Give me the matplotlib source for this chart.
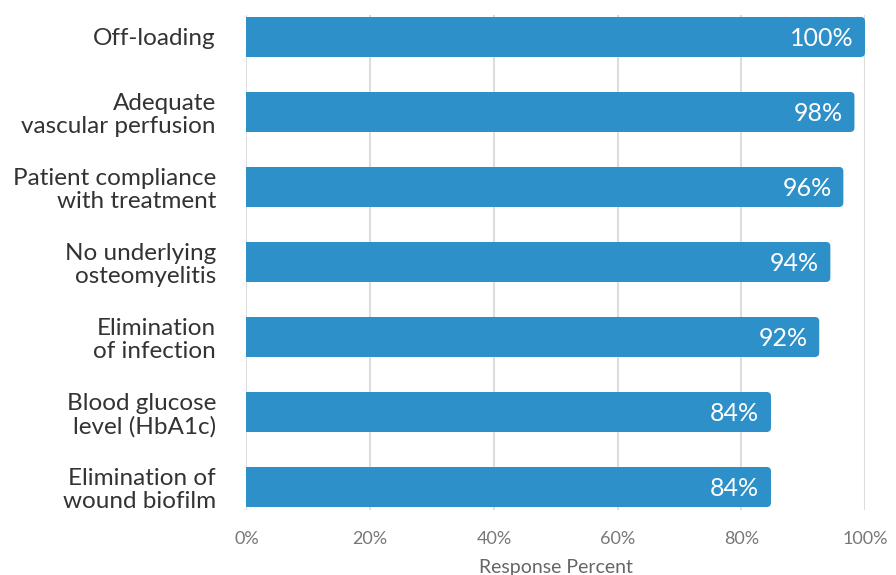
import matplotlib
matplotlib.use("Agg")
import matplotlib.pyplot as plt
from matplotlib.patches import FancyBboxPatch

categories = ["Off-loading", "Adequate\nvascular perfusion", "Patient compliance\nwith treatment",
              "No underlying\nosteomyelitis", "Elimination\nof infection",
              "Blood glucose\nlevel (HbA1c)", "Elimination of\nwound biofilm"]
values = [100, 98.3, 96.5, 94.4, 92.6, 84.8, 84.8]
labels = ["100%", "98%", "96%", "94%", "92%", "84%", "84%"]
xticks = [0, 20, 40, 60, 80, 100]
xticklabels = ["0%", "20%", "40%", "60%", "80%", "100%"]

plt.rcParams['font.family'] = ['Lato', 'DejaVu Sans']
color = "#2E90C8"

fig = plt.figure(figsize=(8.96, 5.75), dpi=100)
ax = fig.add_axes([0.2751, 0.113, 0.9654 - 0.2751, 0.974 - 0.113])

ypos = list(range(len(categories)))
h = 0.533
r = 0.7  # rounding in x units
bars = ax.barh(ypos, [v - r for v in values], height=h, color=color, zorder=2, linewidth=0)
for b, v in zip(bars, values):
    y0 = b.get_y()
    p = FancyBboxPatch((v - 3 * r, y0), 3 * r, h,
                       boxstyle=f"round,pad=0,rounding_size={r}",
                       mutation_aspect=(4 / 75) / (4 / 6.19),
                       facecolor=color, edgecolor="none", zorder=2)
    ax.add_patch(p)

for y, v, t in zip(ypos, values, labels):
    ax.text(v - 1.9, y + 0.02, t, ha="right", va="center", color="white", fontsize=18)

ax.set_ylim(6.307, -0.293)
ax.set_xlim(0, 100)
ax.set_yticks(ypos)
ax.set_yticklabels(categories, fontsize=17.5, color="#333333", linespacing=1.12)
ax.set_xticks(xticks)
ax.set_xticklabels(xticklabels, fontsize=13, color="#777777")
ax.tick_params(axis="both", length=0)
ax.tick_params(axis="y", pad=22)
ax.tick_params(axis="x", pad=15)
ax.xaxis.grid(True, color="#DDDDDD", linewidth=1.5, zorder=0)
ax.set_axisbelow(True)
for s in ax.spines.values():
    s.set_visible(False)
ax.set_xlabel("Response Percent", fontsize=14, color="#666666", labelpad=8.5)

fig.savefig("out.png", dpi=100)
